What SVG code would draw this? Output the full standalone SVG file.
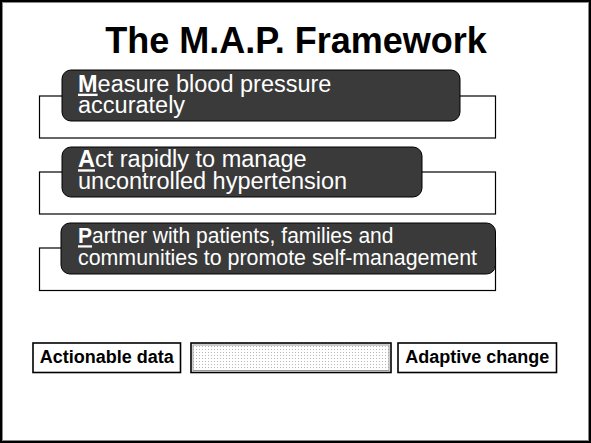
<svg xmlns="http://www.w3.org/2000/svg" width="591" height="443" viewBox="0 0 591 443">
  <defs>
    <pattern id="dots" width="3" height="3" patternUnits="userSpaceOnUse">
      <rect width="3" height="3" fill="#ffffff"/>
      <rect x="1" y="1" width="1" height="1" fill="#b8b8b8"/>
    </pattern>
    <style>
      .title { font-family: "Liberation Sans", Arial, sans-serif; font-size: 36px; font-weight: bold; fill: #000; }
      .frame { fill: none; stroke: #000; stroke-width: 1.2; }
      .step { fill: #3a3a3a; stroke: #000; stroke-width: 1; }
      .steptext { font-family: "Liberation Sans", Arial, sans-serif; font-size: 23.5px; fill: #fff; }
      .tight { font-size: 22.5px; }
      .initial { font-weight: bold; text-decoration: underline; }
      .tag { fill: #fff; stroke: #000; stroke-width: 1.6; }
      .tagtext { font-family: "Liberation Sans", Arial, sans-serif; font-size: 18px; font-weight: bold; fill: #000; }
    </style>
  </defs>

  <!-- slide border -->
  <rect x="1" y="1" width="589" height="441" fill="#fff" stroke="#000" stroke-width="2"/>
  <rect x="2.5" y="2.5" width="586" height="438" fill="none" stroke="#888" stroke-width="1"/>

  <text class="title" x="296" y="53" text-anchor="middle">The M.A.P. Framework</text>

  <g id="measure">
    <rect class="frame" x="39.5" y="96" width="456" height="42"/>
    <rect class="step" x="62" y="70" width="398" height="51" rx="9"/>
    <text class="steptext" x="78" y="91.7"><tspan class="initial">M</tspan>easure blood pressure</text>
    <text class="steptext" x="78" y="113.3">accurately</text>
  </g>

  <g id="act">
    <rect class="frame" x="39.5" y="172" width="456" height="42"/>
    <rect class="step" x="62" y="147" width="360" height="50" rx="9"/>
    <text class="steptext" x="78" y="167.3"><tspan class="initial">A</tspan>ct rapidly to manage</text>
    <text class="steptext" x="78" y="189.3">uncontrolled hypertension</text>
  </g>

  <g id="partner">
    <rect class="frame" x="39.5" y="248" width="456" height="42.5"/>
    <rect class="step" x="61" y="223" width="434.5" height="51" rx="9"/>
    <text class="steptext tight" x="78" y="243.3" textLength="315.5" lengthAdjust="spacingAndGlyphs"><tspan class="initial">P</tspan>artner with patients, families and</text>
    <text class="steptext tight" x="78" y="265" textLength="399" lengthAdjust="spacingAndGlyphs">communities to promote self-management</text>
  </g>

  <g id="actionable-data">
    <rect class="tag" x="33" y="343" width="147.5" height="29.5"/>
    <text class="tagtext" x="106.8" y="363.3" text-anchor="middle">Actionable data</text>
  </g>

  <g id="bridge">
    <rect x="191" y="343" width="200" height="29.5" fill="url(#dots)" stroke="#000" stroke-width="1.6"/>
    <rect x="193" y="345" width="196" height="25.5" fill="none" stroke="#999" stroke-width="1"/>
  </g>

  <g id="adaptive-change">
    <rect class="tag" x="398" y="343" width="158.5" height="29.5"/>
    <text class="tagtext" x="477.2" y="363.3" text-anchor="middle">Adaptive change</text>
  </g>

  <g id="connectors"></g>
</svg>
